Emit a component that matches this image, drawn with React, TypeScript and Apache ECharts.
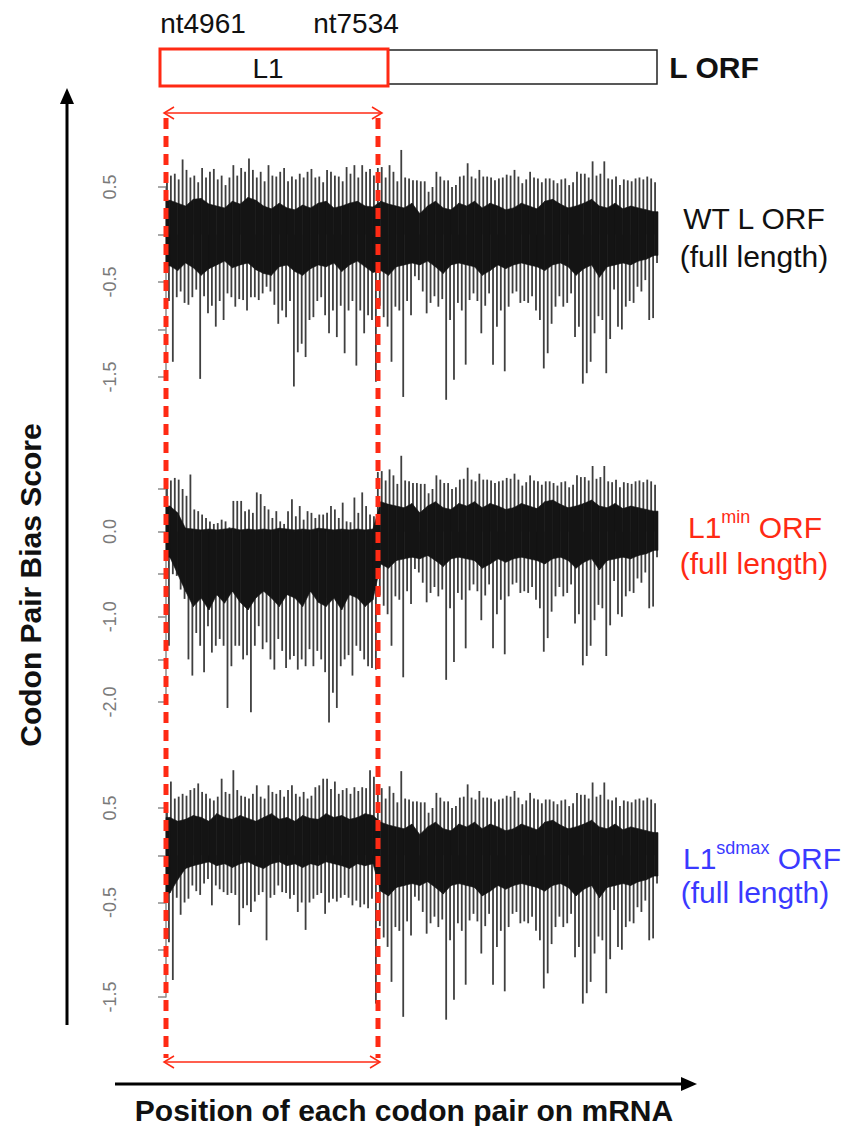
import React, { useEffect, useRef } from "react";
import * as echarts from "echarts";

// codon pairs per spike bin / per core bin
const BIN = 16;
const CORE_BIN = 32;
const TOTAL = 2016;

// ---- WT L1 region (spike extremes per bin) ----
const wtL1Hi = [0.55, 0.62, 0.64, 0.58, 0.79, 0.68, 0.6, 0.62, 0.55, 0.7,
  0.6, 0.66, 0.69, 0.58, 0.62, 0.52, 0.6, 0.73, 0.62, 0.7,
  0.66, 0.8, 0.68, 0.6, 0.66, 0.56, 0.73, 0.62, 0.61, 0.66,
  0.7, 0.56, 0.61, 0.58, 0.64, 0.6, 0.66, 0.69, 0.6, 0.61,
  0.55, 0.68, 0.66, 0.62, 0.61, 0.56, 0.71, 0.64, 0.73, 0.6,
  0.73, 0.66, 0.69, 0.62];
const wtL1Lo = [-0.7, -1.34, -0.66, -0.6, -0.72, -0.74, -0.66, -0.58, -1.52, -0.65,
  -0.83, -0.75, -0.97, -0.7, -0.9, -0.62, -0.66, -0.76, -0.68, -0.69,
  -0.8, -0.66, -0.66, -0.69, -0.62, -0.55, -0.6, -0.74, -0.94, -0.8,
  -0.87, -0.7, -1.6, -1.24, -1.15, -1.29, -0.9, -0.87, -0.7, -0.66,
  -0.85, -1.04, -0.8, -1.08, -0.75, -1.25, -0.8, -0.7, -1.38, -0.8,
  -1.04, -0.85, -0.9, -1.55];
const wtL1CoreHi = [0.36, 0.33, 0.3, 0.37, 0.38, 0.32, 0.3, 0.28, 0.35, 0.32, 0.39, 0.36, 0.3, 0.27,
  0.33, 0.28, 0.26, 0.31, 0.28, 0.33, 0.35, 0.28, 0.3, 0.33, 0.35, 0.3, 0.29];
const wtL1CoreLo = [-0.33, -0.38, -0.3, -0.35, -0.43, -0.36, -0.32, -0.28, -0.35, -0.32, -0.3, -0.37, -0.41, -0.43,
  -0.34, -0.32, -0.39, -0.43, -0.36, -0.32, -0.34, -0.3, -0.39, -0.32, -0.28, -0.34, -0.4];

// ---- L1min region ----
const minL1Hi = [0.55, 0.6, 0.63, 0.61, 0.5, 0.42, 0.67, 0.26, 0.24, 0.2,
  0.16, 0.12, 0.09, 0.1, 0.14, 0.12, 0.05, 0.36, 0.36, 0.36,
  0.24, 0.26, 0.22, 0.46, 0.44, 0.3, 0.26, 0.16, 0.24, 0.12,
  0.09, 0.24, 0.38, 0.18, 0.3, 0.14, 0.24, 0.22, 0.16, 0.2,
  0.2, 0.22, 0.3, 0.26, 0.16, 0.34, 0.12, 0.11, 0.4, 0.22,
  0.46, 0.3, 0.2, 0.18];
const minL1Lo = [-1.34, -0.5, -0.52, -0.68, -0.79, -1.5, -1.69, -1.19, -1.34, -1.65,
  -1.11, -1.42, -1.34, -1.26, -1.34, -2.07, -1.58, -1.34, -1.34, -1.5,
  -1.45, -2.12, -1.34, -1.11, -1.38, -1.3, -1.5, -1.62, -1.26, -1.4,
  -1.6, -1.5, -1.46, -1.62, -1.5, -1.58, -1.38, -1.58, -1.4, -1.5,
  -1.65, -2.24, -1.89, -2.07, -1.58, -1.5, -1.45, -1.69, -1.34, -1.4,
  -1.5, -1.58, -1.6, -1.62];
const minL1CoreHi = [0.3, 0.22, 0.04, 0.03, 0.02, 0.03, 0.02, 0.03, 0.04, 0.02, 0.03, 0.02, 0.03, 0.02,
  0.04, 0.03, 0.02, 0.03, 0.02, 0.04, 0.03, 0.02, 0.03, 0.02, 0.03, 0.02, 0.03];
const minL1CoreLo = [-0.3, -0.5, -0.7, -0.88, -0.78, -0.92, -0.74, -0.84, -0.7, -0.83, -0.92, -0.78, -0.7, -0.78,
  -0.88, -0.74, -0.78, -0.88, -0.7, -0.83, -0.88, -0.78, -0.92, -0.74, -0.78, -0.88, -0.8];

// ---- L1sdmax region ----
const sdL1Hi = [0.5, 0.78, 0.6, 0.62, 0.65, 0.63, 0.69, 0.71, 0.76, 0.67,
  0.65, 0.6, 0.58, 0.62, 0.81, 0.67, 0.65, 0.9, 0.69, 0.63,
  0.62, 0.6, 0.65, 0.74, 0.62, 0.6, 0.74, 0.67, 0.65, 0.69,
  0.62, 0.69, 0.74, 0.65, 0.62, 0.67, 0.6, 0.63, 0.72, 0.74,
  0.81, 0.81, 0.7, 0.78, 0.65, 0.69, 0.71, 0.65, 0.72, 0.68,
  0.72, 0.71, 0.9, 0.83];
const sdL1Lo = [-0.92, -1.32, -0.45, -0.63, -0.5, -0.46, -0.32, -0.38, -0.42, -0.3,
  -0.25, -0.53, -0.32, -0.36, -0.39, -0.42, -0.4, -0.42, -0.74, -0.56,
  -0.53, -0.6, -0.49, -0.42, -0.39, -0.9, -0.45, -0.42, -0.32, -0.39,
  -0.4, -0.46, -0.42, -0.6, -0.5, -0.79, -0.5, -0.46, -0.42, -0.4,
  -0.62, -0.5, -0.46, -0.49, -0.45, -0.42, -0.45, -0.53, -0.48, -0.55,
  -0.52, -0.56, -0.46, -1.57];
const sdL1CoreHi = [0.4, 0.36, 0.38, 0.42, 0.4, 0.36, 0.44, 0.4, 0.38, 0.42, 0.39, 0.36, 0.4, 0.44,
  0.38, 0.4, 0.36, 0.42, 0.39, 0.38, 0.44, 0.4, 0.42, 0.38, 0.4, 0.44, 0.42];
const sdL1CoreLo = [-0.4, -0.26, -0.14, -0.11, -0.09, -0.07, -0.11, -0.09, -0.13, -0.09, -0.07, -0.11, -0.14, -0.09,
  -0.07, -0.11, -0.09, -0.13, -0.09, -0.11, -0.07, -0.09, -0.11, -0.14, -0.09, -0.11, -0.09];

// ---- rest of the L ORF (identical in all three constructs) ----
const restHi = [0.7, 0.71, 0.6, 0.73, 0.66, 0.56, 0.89, 0.6, 0.59, 0.57,
  0.57, 0.56, 0.56, 0.45, 0.5, 0.66, 0.61, 0.57, 0.57, 0.5,
  0.52, 0.61, 0.62, 0.75, 0.61, 0.59, 0.68, 0.61, 0.61, 0.6,
  0.57, 0.59, 0.6, 0.63, 0.62, 0.68, 0.61, 0.54, 0.58, 0.66,
  0.6, 0.59, 0.55, 0.59, 0.59, 0.57, 0.54, 0.58, 0.59, 0.52,
  0.55, 0.66, 0.64, 0.64, 0.6, 0.77, 0.62, 0.64, 0.77, 0.59,
  0.58, 0.61, 0.52, 0.58, 0.57, 0.56, 0.59, 0.6, 0.58, 0.61,
  0.59, 0.55];
const restLo = [-0.75, -0.87, -0.97, -1.34, -0.76, -0.8, -1.71, -0.7, -0.85, -0.44,
  -0.48, -0.6, -0.83, -0.72, -0.65, -0.76, -0.68, -1.74, -0.9, -1.53,
  -0.72, -0.8, -1.37, -0.69, -0.62, -0.7, -1.04, -0.75, -0.62, -1.37,
  -0.97, -0.8, -1.44, -0.76, -0.62, -0.6, -0.72, -0.7, -0.72, -0.65,
  -0.8, -0.9, -1.41, -1.25, -0.94, -0.76, -0.65, -0.76, -0.72, -0.62,
  -1.08, -0.97, -1.57, -1.46, -1.34, -1.04, -0.86, -0.9, -1.46, -1.1,
  -0.58, -0.97, -1.0, -0.76, -0.7, -0.72, -0.55, -0.6, -0.48, -0.9,
  -0.88, -0.3];
const restCoreHi = [0.35, 0.32, 0.3, 0.28, 0.33, 0.22, 0.3, 0.35, 0.28, 0.26, 0.33, 0.3, 0.35, 0.28, 0.33, 0.3,
  0.26, 0.28, 0.33, 0.3, 0.27, 0.35, 0.37, 0.32, 0.28, 0.3, 0.33, 0.37, 0.3, 0.28, 0.33, 0.27, 0.3, 0.28, 0.26, 0.24];
const restCoreLo = [-0.38, -0.43, -0.34, -0.32, -0.3, -0.32, -0.28, -0.34, -0.41, -0.32, -0.3, -0.32, -0.34, -0.43,
  -0.38, -0.32, -0.36, -0.32, -0.3, -0.32, -0.34, -0.38, -0.32, -0.3, -0.34, -0.43, -0.36, -0.32, -0.45, -0.34,
  -0.32, -0.3, -0.32, -0.28, -0.26, -0.22];

const panelTicks = [
  { min: -1.5, max: 0.5, top: 187, bottom: 377, labels: ["0.5", "-0.5", "-1.5"] },
  { min: -2, max: 0.5, top: 489, bottom: 702, labels: ["0.0", "-1.0", "-2.0"] },
  { min: -1.5, max: 0.5, top: 808, bottom: 997, labels: ["0.5", "-0.5", "-1.5"] },
];

const FONT = '"Liberation Sans", Arial, Helvetica, sans-serif';
const RED = "#ff2a14";
const BLUE = "#3a3aff";

function bins(hi: number[], lo: number[], size: number, offset: number) {
  return hi.map((h, i) => [offset + i * size, offset + (i + 1) * size, h, lo[i]]);
}

// core envelope: points at core-bin centres, joined into band segments
function coreSegments(hi: number[], lo: number[]) {
  const pts: number[][] = [];
  hi.forEach((h, i) => pts.push([i * CORE_BIN + CORE_BIN / 2, h, lo[i]]));
  const first = pts[0];
  const last = pts[pts.length - 1];
  const all = [[0, first[1], first[2]], ...pts, [TOTAL, last[1], last[2]]];
  const segs: number[][] = [];
  for (let i = 0; i < all.length - 1; i++) segs.push([...all[i], ...all[i + 1]]);
  return segs;
}

function panelData(l1Hi: number[], l1Lo: number[], l1CHi: number[], l1CLo: number[]) {
  const l1Len = l1Hi.length * BIN;
  return {
    spikes: [...bins(l1Hi, l1Lo, BIN, 0), ...bins(restHi, restLo, BIN, l1Len)],
    core: coreSegments([...l1CHi, ...restCoreHi], [...l1CLo, ...restCoreLo]),
  };
}

const renderSpikes = (_p: any, api: any) => {
  const x0 = api.value(0);
  const x1 = api.value(1);
  const xa = x0 + (x1 - x0) * 0.25;
  const xb = x0 + (x1 - x0) * 0.75;
  const a0 = api.coord([xa, 0]);
  const a1 = api.coord([xa, api.value(2)]);
  const b0 = api.coord([xb, 0]);
  const b1 = api.coord([xb, api.value(3)]);
  return {
    type: "group",
    children: [
      { type: "line", shape: { x1: a0[0], y1: a0[1], x2: a1[0], y2: a1[1] }, style: { stroke: "#3f3f3f", lineWidth: 1.8 } },
      { type: "line", shape: { x1: b0[0], y1: b0[1], x2: b1[0], y2: b1[1] }, style: { stroke: "#3f3f3f", lineWidth: 1.8 } },
    ],
  };
};

const renderCore = (_p: any, api: any) => {
  const p1 = api.coord([api.value(0), api.value(1)]);
  const p2 = api.coord([api.value(3), api.value(4)]);
  const p3 = api.coord([api.value(3), api.value(5)]);
  const p4 = api.coord([api.value(0), api.value(2)]);
  return {
    type: "polygon",
    shape: { points: [p1, p2, p3, p4] },
    style: { fill: "#141414", stroke: "#141414", lineWidth: 0.6 },
  };
};

export default function App() {
  const ref = useRef<HTMLDivElement>(null);
  useEffect(() => {
    if (!ref.current) return;
    const chart = echarts.init(ref.current, undefined, { renderer: "svg" });
    const panels = [
      panelData(wtL1Hi, wtL1Lo, wtL1CoreHi, wtL1CoreLo),
      panelData(minL1Hi, minL1Lo, minL1CoreHi, minL1CoreLo),
      panelData(sdL1Hi, sdL1Lo, sdL1CoreHi, sdL1CoreLo),
    ];
    const grid = panelTicks.map((p) => ({ left: 166, right: 199, top: p.top, height: p.bottom - p.top }));
    const xAxis = panelTicks.map((_, i) => ({ type: "value", gridIndex: i, min: 0, max: TOTAL, show: false }));
    const yAxis = panelTicks.map((p, i) => ({
      type: "value",
      gridIndex: i,
      min: p.min,
      max: p.max,
      interval: 0.5,
      offset: 22,
      splitLine: { show: false },
      axisLine: { show: true, lineStyle: { color: "#8c8c8c", width: 1.5 } },
      axisTick: { show: true, length: 8, lineStyle: { color: "#8c8c8c", width: 1.5 } },
      axisLabel: {
        rotate: 90,
        margin: 25,
        color: "#7a7a7a",
        fontSize: 18,
        fontFamily: FONT,
        formatter: (v: number) => {
          const s = v.toFixed(1);
          return p.labels.includes(s) ? s : "";
        },
      },
    }));
    const series: any[] = [];
    panels.forEach((pd, i) => {
      series.push({
        type: "custom",
        xAxisIndex: i,
        yAxisIndex: i,
        renderItem: renderSpikes,
        data: pd.spikes,
        clip: false,
        z: 2,
      });
      series.push({
        type: "custom",
        xAxisIndex: i,
        yAxisIndex: i,
        renderItem: renderCore,
        data: pd.core,
        clip: false,
        z: 3,
      });
    });

    const txt = (text: string, x: number, y: number, size: number, opts: any = {}) => ({
      type: "text",
      x,
      y,
      z: 10,
      rotation: opts.rotation || 0,
      style: {
        text,
        fontSize: size,
        fontFamily: FONT,
        fontWeight: opts.bold ? "bold" : "normal",
        fill: opts.color || "#111",
        align: opts.align || "center",
        verticalAlign: "middle",
        textAlign: opts.align || "center",
        textVerticalAlign: "middle",
      },
    });

    const supLabel = (main: string, sup: string, color: string, x: number, y: number) => ({
      type: "text",
      x,
      y,
      z: 10,
      style: {
        text: `{m|${main}}{s|${sup}}{m| ORF}`,
        align: "center",
        verticalAlign: "middle",
        textAlign: "center",
        textVerticalAlign: "middle",
        fill: color,
        rich: {
          m: { fontSize: 30, fontFamily: FONT, fill: color, verticalAlign: "bottom", lineHeight: 34 },
          s: { fontSize: 18, fontFamily: FONT, fill: color, verticalAlign: "top", lineHeight: 34 },
        },
      },
    });

    const line = (x1: number, y1: number, x2: number, y2: number, stroke: string, w: number, dash?: number[]) => ({
      type: "line",
      z: 9,
      shape: { x1, y1, x2, y2 },
      style: { stroke, lineWidth: w, lineDash: dash },
    });
    const vhead = (pts: number[][], stroke: string, w: number) => ({
      type: "polyline",
      z: 9,
      shape: { points: pts },
      style: { stroke, lineWidth: w, fill: null },
    });

    const graphic: any[] = [
      txt("nt4961", 203, 23, 28),
      txt("nt7534", 356, 23, 28),
      { type: "rect", z: 9, shape: { x: 388, y: 50, width: 269, height: 34 }, style: { fill: "#fff", stroke: "#222", lineWidth: 1.5 } },
      { type: "rect", z: 9, shape: { x: 160, y: 49, width: 228, height: 37 }, style: { fill: "#fff", stroke: RED, lineWidth: 3 } },
      txt("L1", 268, 68, 28),
      txt("L ORF", 714, 67, 30, { bold: true }),
      // red double arrows
      line(164, 113, 382, 113, RED, 1.5),
      vhead([[174, 107], [164, 113], [174, 119]], RED, 1.5),
      vhead([[372, 107], [382, 113], [372, 119]], RED, 1.5),
      line(164, 1062, 380, 1062, RED, 1.5),
      vhead([[174, 1056], [164, 1062], [174, 1068]], RED, 1.5),
      vhead([[370, 1056], [380, 1062], [370, 1068]], RED, 1.5),
      // red dashed region borders
      line(166, 118, 166, 1058, RED, 5, [11, 7]),
      line(378, 118, 378, 1058, RED, 5, [11, 7]),
      // axes arrows
      line(67, 1025, 67, 100, "#000", 3),
      { type: "polygon", z: 9, shape: { points: [[67, 88], [60, 104], [74, 104]] }, style: { fill: "#000" } },
      line(115, 1084, 684, 1084, "#000", 3),
      { type: "polygon", z: 9, shape: { points: [[697, 1084], [681, 1077], [681, 1091]] }, style: { fill: "#000" } },
      txt("Codon Pair Bias Score", 30, 585, 30, { bold: true, rotation: Math.PI / 2 }),
      txt("Position of each codon pair on mRNA", 404, 1110, 30, { bold: true }),
      // panel labels
      txt("WT L ORF", 754, 218, 30),
      txt("(full length)", 754, 256, 30),
      supLabel("L1", "min", RED, 755, 525),
      txt("(full length)", 754, 563, 30, { color: RED }),
      supLabel("L1", "sdmax", BLUE, 762, 856),
      txt("(full length)", 755, 892, 30, { color: BLUE }),
    ];

    chart.setOption({
      animation: false,
      backgroundColor: "#fff",
      grid,
      xAxis,
      yAxis,
      series,
      graphic,
    });
    return () => chart.dispose();
  }, []);
  return <div ref={ref} style={{ position: "fixed", left: 0, top: 0, width: 857, height: 1126 }} />;
}
